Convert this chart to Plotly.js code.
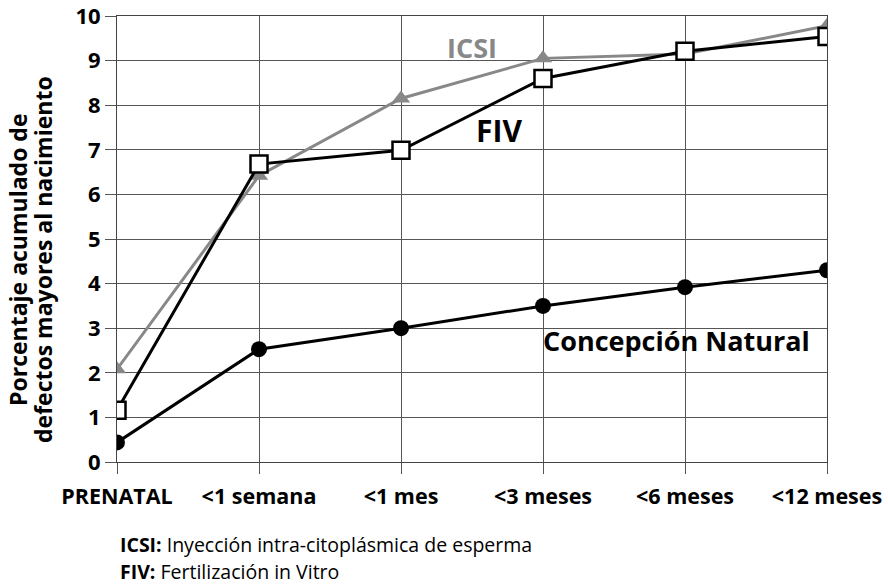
<!DOCTYPE html>
<html><head><meta charset="utf-8">
<script src="https://cdn.plot.ly/plotly-3.0.1.min.js"></script>
<style>html,body{margin:0;padding:0;background:#fff;}#chart{width:888px;height:584px;}</style>
</head><body><div id="chart"></div>
<script>
const categories = ["PRENATAL", "<1 semana", "<1 mes", "<3 meses", "<6 meses", "<12 meses"];
const icsi = [2.08, 6.42, 8.15, 9.05, 9.15, 9.78];
const fiv = [1.16, 6.68, 6.99, 8.6, 9.21, 9.54];
const natural = [0.44, 2.53, 3.0, 3.5, 3.92, 4.3];
const yTicks = [0,1,2,3,4,5,6,7,8,9,10];
const yTitleLines = ["Porcentaje acumulado de", "defectos mayores al nacimiento"];

const FONT = "Open Sans, DejaVu Sans, sans-serif";
const idx = categories.map((c,i)=>i);
const esc = s => s.replace(/</g, "&lt;");

const traces = [
  {x: idx, y: icsi, mode: "lines+markers", name: "ICSI",
   line: {color: "#888888", width: 3},
   marker: {symbol: "triangle-up", size: 16, color: "#888888"}},
  {x: idx, y: natural, mode: "lines+markers", name: "Concepción Natural",
   line: {color: "#000", width: 3},
   marker: {symbol: "circle", size: 16, color: "#000"}},
  {x: idx, y: fiv, mode: "lines+markers", name: "FIV",
   line: {color: "#000", width: 3},
   marker: {symbol: "square", size: 17, color: "#fff", line: {color: "#000", width: 2.5}}}
];

const layout = {
  width: 888, height: 584,
  margin: {l: 117, r: 61, t: 16, b: 122},
  paper_bgcolor: "#fff", plot_bgcolor: "#fff",
  showlegend: false,
  font: {family: FONT, color: "#000"},
  xaxis: {
    range: [0, 5], tickmode: "array", tickvals: idx,
    ticktext: categories.map(c => "<b>" + esc(c) + "</b>"),
    showgrid: true, gridcolor: "#555", gridwidth: 1,
    showline: true, linecolor: "#444", linewidth: 1, mirror: true,
    ticks: "outside", ticklen: 11, tickcolor: "#555", tickwidth: 1,
    tickfont: {family: FONT, size: 21.5, color: "#000"},
    ticklabelstandoff: 4, ticklabeloverflow: "allow", zeroline: false, fixedrange: true
  },
  yaxis: {
    range: [0, 10], tickmode: "array", tickvals: yTicks,
    ticktext: yTicks.map(v => "<b>" + v + "</b>"),
    showgrid: true, gridcolor: "#555", gridwidth: 1,
    showline: true, linecolor: "#444", linewidth: 1, mirror: true,
    ticks: "outside", ticklen: 11, tickcolor: "#555", tickwidth: 1,
    tickfont: {family: FONT, size: 22, color: "#000"},
    ticklabeloverflow: "allow", zeroline: false, fixedrange: true
  },
  annotations: [
    {x: 2.5, y: 9.3, xref: "x", yref: "y", text: "<b>ICSI</b>", showarrow: false,
     font: {family: FONT, size: 27, color: "#888888"}},
    {x: 2.69, y: 7.43, xref: "x", yref: "y", text: "<b>FIV</b>", showarrow: false,
     font: {family: FONT, size: 30, color: "#000"}},
    {x: 3.94, y: 2.73, xref: "x", yref: "y", text: "<b>Concepción Natural</b>", showarrow: false,
     font: {family: FONT, size: 27, color: "#000"}},
    {xref: "paper", yref: "paper", x: -0.1394, y: 0.453, textangle: -90,
     xanchor: "center", yanchor: "middle",
     text: "<b>" + yTitleLines[0] + "</b>", showarrow: false,
     font: {family: FONT, size: 23, color: "#000"}},
    {xref: "paper", yref: "paper", x: -0.1042, y: 0.453, textangle: -90,
     xanchor: "center", yanchor: "middle",
     text: "<b>" + yTitleLines[1] + "</b>", showarrow: false,
     font: {family: FONT, size: 23, color: "#000"}},
    {xref: "paper", yref: "paper", x: 0.0018, y: -0.185, xanchor: "left", yanchor: "middle",
     text: "<b>ICSI:</b> Inyección intra-citoplásmica de esperma", showarrow: false,
     font: {family: FONT, size: 19.5, color: "#000"}},
    {xref: "paper", yref: "paper", x: 0.0018, y: -0.245, xanchor: "left", yanchor: "middle",
     text: "<b>FIV:</b> Fertilización in Vitro", showarrow: false,
     font: {family: FONT, size: 19.5, color: "#000"}}
  ]
};

Plotly.newPlot("chart", traces, layout, {displayModeBar: false, staticPlot: true});
</script></body></html>
